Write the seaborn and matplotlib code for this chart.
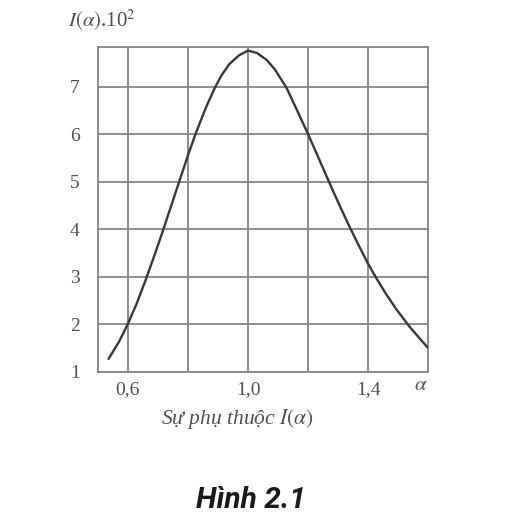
import matplotlib
matplotlib.use("Agg")
import matplotlib.pyplot as plt
import seaborn as sns
import pandas as pd

# values
alpha = [0.536, 0.57, 0.6, 0.63, 0.66, 0.69, 0.716, 0.75, 0.8, 0.827, 0.86,
         0.887, 0.91, 0.937, 0.97, 1.0, 1.03, 1.063, 1.09, 1.128, 1.16, 1.2,
         1.23, 1.259, 1.287, 1.31, 1.338, 1.37, 1.4, 1.427, 1.46, 1.493,
         1.536, 1.57, 1.598]
intensity = [1.27, 1.62, 2.0, 2.44, 2.94, 3.47, 3.95, 4.6, 5.55, 6.03, 6.56,
             6.94, 7.22, 7.47, 7.66, 7.76, 7.71, 7.56, 7.36, 6.98, 6.55, 6.0,
             5.57, 5.15, 4.75, 4.43, 4.05, 3.64, 3.27, 2.97, 2.63, 2.32,
             1.96, 1.71, 1.51]
x_ticks = [0.6, 0.8, 1.0, 1.2, 1.4]
x_labels = ["0,6", "", "1,0", "", "1,4"]
y_ticks = [1, 2, 3, 4, 5, 6, 7]

df = pd.DataFrame({"alpha": alpha, "I": intensity})

sns.set_theme(style="white")
plt.rcParams["font.family"] = ["Liberation Serif", "DejaVu Serif"]
plt.rcParams["mathtext.fontset"] = "stix"

W, H = 532, 525
fig = plt.figure(figsize=(W / 100, H / 100), dpi=100)
ax = fig.add_axes([97.7 / W, 1 - 371.7 / H, (428.3 - 97.7) / W, (371.7 - 47.3) / H])

grid_c = "#858585"
txt_c = "#505050"
sns.lineplot(data=df, x="alpha", y="I", ax=ax, color="#383838", linewidth=1.7,
             sort=False, zorder=3)

ax.set_xlim(0.5, 1.6)
ax.set_ylim(1, 7.83)
ax.set_xticks(x_ticks)
ax.set_xticklabels(x_labels)
ax.set_yticks(y_ticks)
ax.grid(True, color=grid_c, linewidth=1.3)
ax.tick_params(length=0, labelsize=14, labelcolor=txt_c)
ax.tick_params(axis="y", pad=13)
ax.tick_params(axis="x", pad=7)
for s in ax.spines.values():
    s.set_color(grid_c)
    s.set_linewidth(1.3)
ax.set_xlabel("")
ax.set_ylabel("")

fig.text(68 / W, 1 - 20 / H, r"$I(\alpha)$.10$^2$", fontsize=15, color=txt_c,
         va="center", ha="left")
fig.text(421 / W, 1 - 386 / H, r"$\alpha$", fontsize=15, color=txt_c,
         va="center", ha="center")
fig.text(237 / W, 1 - 419 / H, "Sự phụ thuộc $I(\\alpha)$", fontsize=15.5,
         style="italic", color=txt_c, va="center", ha="center")
fig.text(251 / W, 1 - 500 / H, "Hình 2.1", fontsize=21.5, family="Roboto",
         style="italic", weight="bold", color="#1a1a1a", va="center", ha="center")

fig.savefig("out.png", dpi=100, facecolor="white")
